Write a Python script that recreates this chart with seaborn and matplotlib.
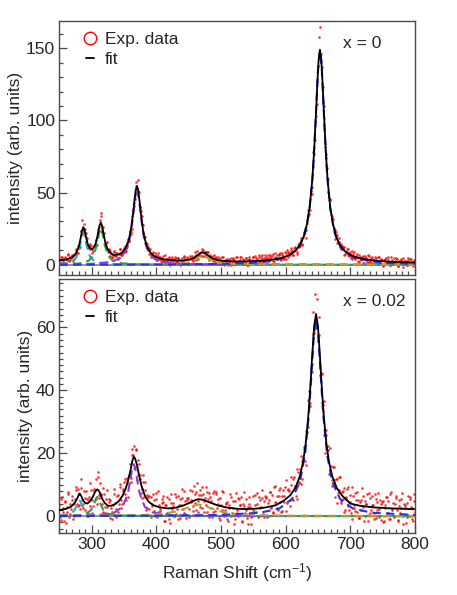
import numpy as np
import pandas as pd
import matplotlib
matplotlib.use("Agg")
import matplotlib.pyplot as plt
from matplotlib.lines import Line2D
from matplotlib.ticker import MultipleLocator
import seaborn as sns

# ---------------- data ----------------
# two interleaved sampling grids of the spectrometer, cm^-1
shift_even = np.arange(250, 802, 2)
shift_odd = np.arange(251, 800, 2)

# x = 0 : measured intensity
exp_top_even = [
    4.0, 1.4, 5.7, 2.9, 4.8, 0.8, 4.0, 7.2, 3.2, 4.4,
    7.1, 3.8, 7.5, 10.8, 8.4, 12.6, 12.0, 23.6, 24.1, 28.5,
    19.7, 18.9, 11.6, 13.3, 14.6, 10.6, 9.5, 13.0, 16.9, 13.6,
    25.1, 26.0, 33.5, 25.4, 26.1, 14.5, 15.0, 11.1, 11.2, 6.1,
    8.5, 5.2, 9.3, 6.2, 8.1, 4.3, 7.5, 10.7, 7.0, 8.5,
    11.9, 9.1, 13.6, 18.2, 16.2, 22.9, 24.5, 38.2, 43.0, 54.8,
    53.0, 58.5, 40.3, 37.3, 33.6, 22.2, 15.3, 15.3, 14.7, 7.5,
    10.7, 7.1, 7.2, 5.1, 8.3, 3.3, 6.0, 4.3, 5.7, 1.6,
    3.4, 2.5, 6.7, 3.7, 0.7, 4.6, 2.7, 5.5, 1.1, 3.8,
    5.0, 2.1, 4.4, -0.1, 3.0, 1.3, 5.7, 3.7, 1.0, 5.2,
    0.5, 6.0, 4.5, 2.5, 4.5, 8.7, 7.0, 4.1, 8.2, 6.6,
    6.1, 10.1, 8.2, 8.9, 5.2, 9.1, 4.7, 5.4, 3.9, 5.9,
    5.0, 1.2, 3.7, 5.1, 1.5, 2.8, 5.6, 0.0, 3.3, 1.6,
    0.8, 4.1, 2.6, -0.4, 4.6, 3.2, 1.7, 5.3, 1.0, 2.7,
    5.3, 0.8, 3.9, 2.4, 4.6, -0.1, 3.5, 5.1, 1.9, 3.1,
    5.7, 1.7, 4.5, 3.0, 6.7, 1.6, 5.4, 4.0, 2.6, 6.6,
    4.0, 7.0, 2.6, 5.7, 3.7, 7.8, 2.7, 5.6, 7.1, 4.7,
    7.2, 4.1, 8.2, 5.8, 4.1, 7.9, 10.2, 5.7, 8.5, 10.4,
    9.6, 6.9, 12.0, 10.6, 8.9, 15.4, 12.8, 17.2, 14.5, 21.8,
    24.6, 23.9, 34.0, 35.5, 45.9, 49.0, 68.0, 76.6, 99.0, 111.5,
    138.0, 158.0, 146.0, 137.0, 113.0, 101.5, 77.0, 67.0, 50.5, 45.0,
    35.5, 33.5, 24.5, 24.2, 22.4, 15.1, 16.0, 12.1, 14.5, 10.7,
    12.0, 7.3, 9.1, 10.7, 6.2, 7.8, 3.8, 7.6, 8.7, 4.6,
    5.4, 2.9, 7.0, 3.8, 5.6, 1.5, 5.9, 4.5, 2.2, 6.6,
    2.5, 5.0, 1.0, 3.6, 5.5, 1.3, 2.8, 5.5, 1.5, 3.7,
    0.1, 3.2, 4.2, 1.1, 5.1, 1.8, 0.1, 3.4, 2.2, 4.4,
    1.0, 4.2, -0.7, 2.5, 3.5, 0.2, 4.8, 1.5, 2.7, -0.3,
    3.1, 0.9, 4.0, 0.2, 2.1, 3.5]
exp_top_odd = [
    1.9, 5.3, 3.7, 1.0, 5.1, 3.0, 6.8, 2.4, 5.3, 6.2,
    2.7, 6.5, 9.7, 8.0, 13.1, 11.8, 23.2, 31.0, 23.8, 24.7,
    22.2, 13.2, 13.8, 10.8, 12.9, 7.9, 13.0, 14.0, 14.6, 23.0,
    23.1, 30.8, 36.0, 21.5, 22.0, 15.0, 15.6, 8.8, 9.9, 9.3,
    4.5, 7.0, 9.0, 5.8, 8.3, 5.0, 10.8, 7.5, 7.1, 10.4,
    13.2, 9.6, 14.9, 16.2, 23.6, 21.3, 34.1, 40.7, 45.4, 57.2,
    51.0, 50.7, 40.2, 28.5, 27.9, 19.4, 19.3, 11.8, 12.1, 10.9,
    5.5, 7.4, 8.8, 5.0, 6.9, 3.1, 8.1, 4.1, 2.7, 4.8,
    6.2, 1.0, 4.1, 2.5, 5.2, 0.1, 4.2, 3.5, 1.3, 5.6,
    1.6, 4.9, 3.2, 0.5, 4.5, 2.3, 6.0, 1.3, 3.9, 4.5,
    0.6, 3.9, 6.4, 3.5, 6.4, 3.5, 9.6, 6.6, 6.2, 9.2,
    11.1, 6.0, 8.8, 6.7, 8.8, 3.1, 6.6, 5.2, 2.7, 6.7,
    2.4, 5.4, 3.5, 0.7, 4.5, 2.2, 5.6, 0.8, 3.3, 3.7,
    -0.4, 2.5, 4.6, 1.4, 3.8, 0.2, 5.6, 1.9, 0.8, 3.2,
    5.3, 0.2, 3.4, 1.9, 4.7, -0.3, 3.9, 3.2, 1.2, 5.6,
    2.4, 5.8, 4.1, 1.5, 5.5, 3.3, 6.9, 2.3, 4.9, 5.4,
    1.5, 4.5, 6.8, 3.7, 6.3, 2.9, 8.4, 4.9, 3.9, 6.5,
    8.2, 3.2, 6.6, 5.4, 8.6, 4.0, 8.6, 8.3, 6.7, 11.7,
    6.6, 11.9, 10.2, 7.3, 14.0, 12.3, 18.6, 13.8, 19.5, 22.9,
    18.8, 28.6, 38.1, 38.0, 50.8, 54.1, 77.9, 86.5, 103.0, 127.1,
    145.3, 165.0, 141.5, 123.5, 110.3, 81.8, 73.7, 59.3, 44.9, 45.6,
    32.3, 31.4, 25.2, 18.2, 20.7, 15.6, 18.3, 10.8, 12.7, 12.3,
    6.9, 9.1, 10.6, 6.8, 8.6, 4.6, 9.6, 5.5, 4.1, 6.2,
    7.5, 2.1, 5.1, 3.4, 6.0, 0.9, 4.9, 4.1, 1.9, 6.2,
    2.1, 5.3, 3.5, 0.7, 4.6, 2.3, 5.7, 0.9, 3.2, 3.6,
    -0.5, 2.3, 4.5, 1.2, 3.6, 0.0, 5.4, 1.7, 0.5, 2.9,
    4.5, -0.7, 2.5, 1.0, 3.8, -1.3, 2.9, 2.2, 0.1, 4.5,
    0.4, 3.7, 2.0, -0.7, 3.2]

# x = 0.02 : measured intensity
exp_bot_even = [
    3.4, -1.2, 6.1, 1.3, 4.4, -2.2, 2.8, 7.6, 0.8, 2.3,
    6.4, 0.1, 5.3, 9.4, 3.2, 7.1, 2.2, 8.8, 4.0, 8.1,
    1.9, 5.4, -0.1, 6.2, 10.4, 5.2, 3.3, 8.0, 11.9, 3.8,
    14.1, 6.6, 7.2, 3.8, 9.1, 0.9, 5.4, 2.9, 5.6, -0.6,
    2.6, 1.4, 8.6, 4.2, -0.4, 6.6, 4.0, 9.4, 2.7, 8.1,
    11.0, 7.2, 12.1, 6.2, 13.0, 12.0, 21.2, 19.5, 15.2, 20.9,
    11.6, 18.0, 13.0, 7.4, 8.7, 13.2, 8.4, 1.8, 6.6, 2.3,
    0.3, 6.2, 3.1, 5.0, -0.1, 7.4, 1.2, 3.4, 1.7, 5.5,
    4.6, -1.6, 3.4, 6.0, 0.9, -0.9, 7.2, 2.3, 4.3, -0.1,
    6.0, 2.2, -0.8, 5.6, 3.5, 8.5, 1.0, 4.7, -0.6, 5.9,
    2.2, 8.2, 5.1, 1.6, 9.7, 4.2, 7.6, 1.4, 6.7, 8.3,
    2.6, 7.1, 4.7, 9.4, 1.3, 5.3, 7.3, 2.6, -0.2, 7.3,
    0.5, 7.7, 2.6, 5.5, -1.3, 3.5, 8.0, 0.9, 2.1, 4.2,
    -0.9, 3.6, 7.0, 0.0, 2.7, -2.4, 4.9, 1.0, 5.8, 5.4,
    3.7, -1.8, 4.0, 7.7, 2.0, -0.7, 3.0, 6.1, -2.4, 0.0,
    2.0, 3.6, 1.4, 7.5, 0.0, 5.0, 2.9, 5.8, -0.4, 6.4,
    6.0, -0.1, 5.1, 7.8, 2.8, 1.0, 9.2, 4.4, 6.5, 2.1,
    8.2, 4.5, 1.7, 8.3, 6.3, 11.5, 4.3, 8.2, 3.1, 9.8,
    5.4, 11.8, 9.2, 6.3, 15.1, 10.6, 15.1, 10.2, 17.5, 21.4,
    17.5, 27.1, 28.5, 39.8, 36.1, 48.4, 57.8, 58.2, 70.5, 60.2,
    55.8, 57.7, 45.5, 45.2, 33.5, 25.7, 27.5, 20.9, 22.2, 13.4,
    15.9, 9.5, 15.6, 9.6, 11.7, 4.2, 8.4, 12.4, 4.7, 5.6,
    9.0, 1.9, 6.1, 9.2, 1.9, 4.4, -0.8, 6.5, 2.6, 7.3,
    1.4, 5.0, -0.6, 5.2, 8.8, 3.0, 0.2, 4.0, 7.0, -1.6,
    5.8, 1.9, 3.4, 1.1, 7.2, -0.5, 4.4, 2.2, 5.0, -1.2,
    4.7, -1.6, 3.5, 6.2, 1.0, -0.9, 7.2, 2.3, 4.2, -0.4,
    5.7, 1.8, -1.3, 5.0, 2.6, 7.5, -0.1, 3.4, -2.1, 4.3,
    0.4, 6.2, 2.8, -0.9, 7.0, 1.3]
exp_bot_odd = [
    -0.2, 5.4, 2.6, -1.7, 4.9, 1.4, 7.1, -0.2, 4.0, 5.0,
    -0.9, 4.0, 8.2, 3.8, 8.6, 3.7, 11.8, 5.2, 2.6, 5.8,
    8.0, 0.0, 5.1, 3.3, 8.2, 1.1, 8.5, 8.3, 5.6, 12.6,
    5.9, 10.6, 6.7, 1.4, 7.1, 3.0, 8.2, 0.5, 4.4, 5.2,
    -1.0, 3.5, 7.2, 2.4, 6.5, 1.3, 10.2, 5.0, 3.9, 8.5,
    11.9, 5.1, 11.3, 10.6, 16.7, 10.9, 19.4, 22.4, 15.6, 21.3,
    13.2, 16.6, 11.8, 5.9, 11.0, 6.2, 10.9, 2.7, 6.0, 6.3,
    -0.4, 3.8, 7.0, 1.7, 5.4, -0.3, 8.1, 2.3, 0.4, 4.1,
    6.5, -1.5, 3.4, 1.0, 5.5, -2.3, 4.2, 3.2, -0.1, 6.9,
    0.7, 6.3, 3.5, -0.7, 5.8, 2.4, 8.1, 0.8, 5.0, 5.9,
    -0.2, 4.4, 8.1, 3.2, 7.2, 1.9, 10.4, 4.8, 3.0, 6.7,
    9.2, 1.2, 5.9, 3.5, 7.7, -0.3, 6.0, 4.8, 1.3, 8.0,
    1.6, 6.9, 3.9, -0.5, 5.8, 2.1, 7.6, -0.1, 3.9, 4.6,
    -1.7, 2.6, 6.1, 0.9, 4.7, -0.9, 7.5, 1.8, -0.1, 3.7,
    6.2, -1.7, 3.2, 0.9, 5.3, -2.6, 4.0, 2.9, -0.4, 6.5,
    1.3, 6.8, 4.0, -0.3, 6.2, 2.6, 8.3, 0.8, 4.9, 5.7,
    -0.4, 4.2, 7.7, 2.7, 6.6, 1.2, 9.7, 4.1, 2.5, 6.4,
    8.9, 1.3, 6.5, 4.5, 9.2, 1.7, 8.6, 7.9, 5.0, 12.3,
    5.1, 12.4, 9.6, 5.3, 14.0, 10.9, 19.0, 11.7, 18.6, 22.0,
    16.2, 26.8, 36.8, 34.9, 47.4, 45.8, 64.9, 61.0, 59.9, 69.0,
    63.3, 45.0, 45.5, 35.5, 36.5, 20.1, 25.9, 21.0, 13.4, 21.7,
    11.5, 15.5, 11.5, 6.2, 11.7, 7.4, 12.3, 4.2, 7.6, 8.0,
    1.3, 5.3, 8.5, 3.1, 6.6, 0.9, 9.2, 3.4, 1.5, 5.2,
    7.6, -0.5, 4.4, 2.0, 6.3, -1.6, 4.9, 3.8, 0.4, 7.3,
    0.9, 6.4, 3.4, -1.0, 5.4, 1.8, 7.3, -0.2, 3.8, 4.6,
    -1.8, 2.6, 6.1, 0.9, 4.7, -0.8, 7.6, 1.9, 0.0, 3.8,
    6.3, -1.6, 3.3, 0.9, 5.3, -2.5, 4.0, 2.9, -0.4, 6.5,
    0.2, 5.6, 2.7, -1.6, 4.8]

# total fit curves
fit_shift_top = [250, 260, 270, 276, 280, 283, 285, 287, 289, 291, 294, 297, 300, 303, 306,
                 309, 312, 314, 316, 318, 321, 324, 328, 332, 336, 340, 344, 348, 352, 355,
                 358, 361, 364, 366, 368, 370, 372, 374, 376, 379, 382, 385, 388, 392, 396,
                 400, 410, 420, 430, 440, 450, 458, 464, 468, 472, 476, 480, 486, 494, 505,
                 520, 540, 560, 580, 595, 605, 615, 622, 628, 633, 637, 641, 644, 647, 649,
                 651, 653, 655, 657, 659, 662, 665, 669, 673, 678, 684, 691, 701, 711, 726,
                 746, 766, 786, 800]
fit_top = [3.2, 3.5, 5.2, 8.1, 12.5, 18.8, 23.7, 26.1, 24.0, 19.6, 14.1, 11.5, 10.8, 11.8, 14.6,
           20.1, 27.1, 29.3, 27.0, 22.2, 15.5, 11.4, 8.5, 7.1, 6.7, 7.0, 7.6, 8.9, 11.3, 14.1,
           18.6, 25.5, 35.9, 44.2, 51.6, 54.7, 51.4, 44.0, 35.6, 25.1, 18.0, 13.4, 10.4, 7.8, 6.2,
           5.3, 3.8, 3.3, 2.9, 2.9, 3.4, 4.7, 6.6, 8.0, 8.7, 7.95, 6.5, 4.55, 3.3, 2.6,
           2.3, 2.33, 2.7, 3.6, 4.9, 6.6, 9.7, 13.7, 19.6, 28.3, 39.5, 57.8, 78.6, 106, 126,
           142, 149, 143, 126.5, 107, 79, 58, 39.7, 28.4, 19.6, 13.7, 9.7, 6.6, 4.9, 3.6,
           2.5, 2.04, 1.76, 1.6]

fit_shift_bot = [250, 260, 268, 274, 278, 280, 281, 282, 284, 287, 290, 293, 297, 301, 305,
                 307, 308.5, 310, 312, 316, 320, 325, 330, 336, 342, 348, 353, 357, 360, 363,
                 365, 367, 370, 373, 377, 382, 388, 395, 405, 418, 430, 442, 452, 460, 465,
                 472, 482, 495, 510, 525, 540, 555, 570, 585, 597, 607, 615, 622, 627, 631,
                 635, 638, 641, 644, 647, 650, 653, 656, 659, 663, 667, 672, 679, 687, 700,
                 715, 735, 760, 800]
fit_bot = [1.9, 2.3, 3.0, 4.3, 5.8, 6.8, 7.2, 7.0, 6.3, 4.9, 4.2, 4.0, 4.6, 5.9, 7.6,
           8.3, 8.5, 8.3, 7.7, 5.6, 4.2, 3.3, 3.3, 3.8, 4.8, 6.6, 9.0, 11.9, 14.6, 17.7,
           18.9, 18.4, 16.3, 13.2, 9.6, 6.6, 4.6, 3.5, 2.8, 2.45, 2.7, 3.4, 4.3, 5.1, 5.4,
           5.2, 4.4, 3.4, 2.7, 2.35, 2.25, 2.4, 2.8, 3.5, 4.9, 6.6, 9.0, 12.7, 17.3, 23.1,
           31.7, 40.6, 50.9, 60.3, 64.3, 60.3, 50.9, 40.6, 31.7, 23.1, 17.3, 12.7, 9.0, 6.6, 4.0,
           3.3, 2.8, 2.5, 2.2]

# single-peak components, x = 0
p1_shift_top = [250, 262, 270, 276, 280, 283, 285, 287, 289, 291, 294, 298, 304, 315, 335, 380, 800]
p1_top = [0.58, 1.2, 2.5, 5.2, 9.45, 15.5, 20.25, 22.5, 20.25, 15.5, 9.45, 5.2, 2.5, 1.0, 0.35, 0.09, 0.0]
p2_shift_top = [250, 280, 295, 303, 308, 311, 314, 317, 320, 325, 332, 345, 370, 420, 800]
p2_top = [0.26, 0.9, 2.7, 6.6, 13.8, 21.0, 25.5, 21.0, 13.8, 6.6, 2.9, 1.07, 0.34, 0.1, 0.0]
p3_shift_top = [250, 300, 330, 345, 355, 360, 364, 367, 370, 373, 376, 380, 385, 395, 410, 440, 500, 800]
p3_top = [0.15, 0.68, 2.0, 4.9, 11.6, 20.5, 33.6, 46.0, 52.5, 46.0, 33.6, 20.5, 11.6, 4.9, 2.0, 0.68, 0.2, 0.02]
p4_shift_top = [250, 400, 430, 450, 460, 466, 472, 478, 484, 494, 514, 560, 650, 800]
p4_top = [0.02, 0.19, 0.53, 1.6, 3.5, 5.6, 7.0, 5.6, 3.5, 1.6, 0.53, 0.13, 0.04, 0.01]
p5_shift_top = [250, 400, 500, 560, 600, 620, 630, 637, 642, 646, 650, 653, 656, 660, 664, 669,
                676, 686, 706, 746, 800]
p5_top = [0.08, 0.21, 0.57, 1.5, 4.6, 11.3, 21.6, 38.6, 63.0, 96.0, 134.5, 148.0, 134.5, 96.0,
          63.0, 38.6, 21.6, 11.3, 4.6, 1.5, 0.61]

# single-peak components, x = 0.02
p1_shift_bot = [250, 265, 272, 276, 279, 281, 283, 286, 290, 296, 310, 340, 800]
p1_bot = [0.17, 0.6, 1.5, 2.9, 4.4, 4.9, 4.4, 2.9, 1.5, 0.6, 0.2, 0.05, 0.0]
p2_shift_bot = [250, 280, 292, 299, 304, 307, 308.5, 310, 313, 318, 325, 340, 380, 800]
p2_bot = [0.07, 0.3, 0.8, 1.95, 4.1, 5.8, 6.1, 5.8, 4.1, 1.95, 0.8, 0.25, 0.05, 0.0]
p3_shift_bot = [250, 310, 335, 348, 356, 360, 363, 365, 367, 370, 374, 382, 395, 420, 480, 800]
p3_bot = [0.08, 0.34, 1.1, 3.0, 7.3, 11.9, 15.5, 16.5, 15.5, 11.9, 7.3, 3.0, 1.1, 0.34, 0.08, 0.01]
p4_shift_bot = [250, 380, 410, 430, 445, 455, 465, 475, 485, 500, 520, 550, 600, 800]
p4_bot = [0.06, 0.36, 0.76, 1.44, 2.45, 3.3, 3.7, 3.3, 2.45, 1.44, 0.76, 0.36, 0.15, 0.03]
p5_shift_bot = [250, 400, 500, 560, 590, 610, 622, 630, 636, 640, 644, 647, 650, 654, 658, 664,
                672, 684, 704, 734, 800]
p5_bot = [0.05, 0.14, 0.38, 1.07, 2.4, 5.5, 10.9, 19.6, 32.6, 45.6, 58.5, 62.5, 58.5, 45.6,
          32.6, 19.6, 10.9, 5.5, 2.4, 1.07, 0.38]

comp_colors = ["#19b5c4", "#2e9e4a", "#8a3be0", "#b9a21a", "#2233ee"]

# ---------------- style ----------------
sns.set_theme(style="ticks")
plt.rcParams["font.family"] = ["Liberation Sans", "DejaVu Sans"]
plt.rcParams["mathtext.default"] = "regular"
EDGE = "#4a4a4a"


def draw_panel(ax, exp_even, exp_odd, fit_x, fit_y, comps, label, ylim, ymajor, yminor):
    pts = pd.DataFrame({"shift": np.concatenate([shift_even, shift_odd]),
                        "intensity": np.concatenate([exp_even, exp_odd])})
    sns.scatterplot(data=pts, x="shift", y="intensity", ax=ax, color="red", s=3.5,
                    linewidth=0, alpha=0.8, legend=False, zorder=2)
    ax.axhline(0, color="#8c9494", lw=1.4, zorder=1)
    for (cx, cy), col in zip(comps, comp_colors):
        sns.lineplot(x=cx, y=cy, ax=ax, color=col, lw=1.5, linestyle=(0, (4, 2.5)),
                     estimator=None, sort=False, zorder=3)
    sns.lineplot(x=fit_x, y=fit_y, ax=ax, color="black", lw=1.3, estimator=None,
                 sort=False, zorder=4)
    ax.set_xlim(250, 800)
    ax.set_ylim(*ylim)
    ax.xaxis.set_major_locator(MultipleLocator(100))
    ax.xaxis.set_minor_locator(MultipleLocator(10))
    ax.yaxis.set_major_locator(MultipleLocator(ymajor))
    ax.yaxis.set_minor_locator(MultipleLocator(yminor))
    ax.tick_params(which="both", direction="in", top=False, right=False,
                   color=EDGE, width=0.9, labelsize=12.5, pad=3)
    ax.tick_params(which="major", length=5.5)
    ax.tick_params(which="minor", length=2.8)
    for sp in ax.spines.values():
        sp.set_color(EDGE)
        sp.set_linewidth(1.0)
    ax.set_ylabel("intensity (arb. units)", fontsize=12.5, labelpad=2)
    ax.set_xlabel("")
    ax.text(0.797, 0.91, label, transform=ax.transAxes, fontsize=12.5, va="center")
    handles = [Line2D([], [], ls="none", marker="o", ms=9, mfc="none", mec="red", mew=1.0),
               Line2D([], [], color="black", lw=1.3)]
    ax.legend(handles, ["Exp. data", "fit"], loc="upper left", bbox_to_anchor=(0.035, 1.012),
              frameon=False, fontsize=12.5, handlelength=0.5, handletextpad=0.6,
              labelspacing=0.28, borderaxespad=0.4)


fig = plt.figure(figsize=(4.57, 5.95), dpi=100)
ax_top = fig.add_axes([0.130, 0.538, 0.778, 0.427])
ax_bot = fig.add_axes([0.130, 0.104, 0.778, 0.427], sharex=ax_top)

draw_panel(ax_top, exp_top_even, exp_top_odd, fit_shift_top, fit_top,
           [(p1_shift_top, p1_top), (p2_shift_top, p2_top), (p3_shift_top, p3_top),
            (p4_shift_top, p4_top), (p5_shift_top, p5_top)],
           "x = 0", (-7, 169), 50, 10)
draw_panel(ax_bot, exp_bot_even, exp_bot_odd, fit_shift_bot, fit_bot,
           [(p1_shift_bot, p1_bot), (p2_shift_bot, p2_bot), (p3_shift_bot, p3_bot),
            (p4_shift_bot, p4_bot), (p5_shift_bot, p5_bot)],
           "x = 0.02", (-5.4, 75.4), 20, 2)

ax_top.tick_params(labelbottom=False)
ax_bot.set_xlabel("Raman Shift (cm$^{-1}$)", fontsize=12.5, labelpad=6)

fig.savefig("out.png", dpi=100)
